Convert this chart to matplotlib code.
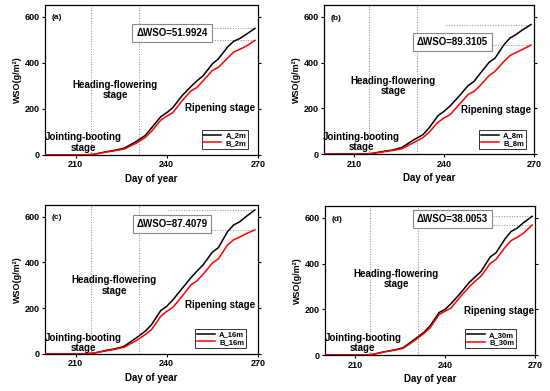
import matplotlib
matplotlib.use('Agg')
import matplotlib.pyplot as plt

plt.rcParams['font.family'] = ['Liberation Sans', 'DejaVu Sans']
plt.rcParams['font.weight'] = 'bold'

# day of year, shared by all series
days = [200, 210, 213, 216, 220, 223, 226, 230, 233, 235, 238, 240,
        242, 245, 248, 250, 252, 255, 257, 260, 262, 264, 266, 269]

a_2m = [0, 0, 0, 2, 13, 20, 29, 58, 85, 117, 165, 183,
        205, 256, 297, 322, 344, 395, 417, 468, 493, 505, 522, 549]
b_2m = [0, 0, 0, 2, 12, 18, 25, 51, 76, 102, 150, 168,
        183, 234, 278, 293, 322, 366, 380, 420, 446, 458, 471, 497]

a_8m = [0, 0, 0, 3, 12, 18, 29, 63, 85, 114, 168, 187,
        210, 253, 299, 318, 352, 401, 420, 479, 508, 523, 542, 567]
b_8m = [0, 0, 0, 2, 10, 16, 23, 51, 72, 95, 139, 158,
        172, 216, 260, 274, 299, 343, 362, 406, 431, 444, 457, 477]

a_16m = [0, 0, 0, 3, 15, 22, 33, 70, 100, 128, 189, 208,
         236, 285, 334, 363, 390, 445, 465, 535, 564, 578, 600, 630]
b_16m = [0, 0, 0, 3, 13, 20, 29, 58, 85, 106, 164, 186,
         203, 251, 302, 320, 349, 397, 416, 477, 499, 511, 525, 543]

a_30m = [0, 0, 0, 3, 15, 22, 32, 70, 100, 128, 186, 200,
         225, 269, 317, 342, 366, 429, 448, 509, 541, 555, 578, 607]
b_30m = [0, 0, 0, 3, 14, 21, 29, 65, 95, 119, 177, 192,
         206, 254, 298, 323, 346, 400, 419, 472, 501, 515, 532, 569]

panel_tags = ['(a)', '(b)', '(c)', '(d)']
heights = ['2m', '8m', '16m', '30m']
delta_wso = ['51.9924', '89.3105', '87.4079', '38.0053']
stage_days = [215, 231]
x_ticks = [210, 240, 270]
y_ticks = [0, 200, 400, 600]

series = [(a_2m, b_2m), (a_8m, b_8m), (a_16m, b_16m), (a_30m, b_30m)]

# axes rectangles in figure fraction
rects = [[0.082, 0.604, 0.387, 0.384],
         [0.589, 0.606, 0.382, 0.381],
         [0.082, 0.095, 0.387, 0.381],
         [0.591, 0.092, 0.382, 0.381]]
# text placement (axes fraction) per panel
box_pos = [(0.596, 0.81), (0.61, 0.754), (0.596, 0.872), (0.607, 0.911)]
head_pos = [(0.33, 0.43), (0.33, 0.456), (0.325, 0.46), (0.34, 0.51)]
ripe_pos = [(0.82, 0.31), (0.82, 0.295), (0.82, 0.33), (0.83, 0.295)]
joint_pos = [(0.18, 0.083), (0.18, 0.08), (0.18, 0.074), (0.18, 0.08)]
leg_anchor = [(0.955, 0.04), (0.962, 0.035), (0.945, 0.04), (0.91, 0.045)]

fig = plt.figure(figsize=(5.5, 3.91), dpi=100)

for i in range(4):
    ax = fig.add_axes(rects[i])
    a, b = series[i]
    ax.plot(days, a, color='black', lw=1.1, label='A_' + heights[i], zorder=3)
    ax.plot(days, b, color='red', lw=1.1, label='B_' + heights[i], zorder=3)

    for d in stage_days:
        ax.axvline(d, color='#888888', ls=':', lw=0.7, zorder=1)
    # dotted lines marking final values
    ax.hlines([a[-1], b[-1]], 240.5, days[-1], colors='#888888',
              linestyles=':', lw=0.7, zorder=1)

    ax.set_xlim(200, 270)
    ax.set_ylim(0, 652)
    ax.set_xticks(x_ticks)
    ax.set_yticks(y_ticks)
    ax.tick_params(axis='both', labelsize=6.5, direction='out', length=2.5, width=0.8, pad=1.5)
    ax.tick_params(right=True, which='major')
    for lab in ax.get_xticklabels() + ax.get_yticklabels():
        lab.set_fontweight('bold')
    for s in ax.spines.values():
        s.set_linewidth(0.9)

    ax.set_xlabel('Day of year', fontsize=7, fontweight='bold', labelpad=3)
    ax.set_ylabel('WSO(g/m²)', fontsize=6.5, fontweight='bold', labelpad=2)

    ax.text(0.03, 0.913, panel_tags[i], transform=ax.transAxes, fontsize=6,
            fontweight='bold', va='center', ha='left')
    ax.text(box_pos[i][0], box_pos[i][1], 'ΔWSO=' + delta_wso[i],
            transform=ax.transAxes, fontsize=7, fontweight='bold',
            ha='center', va='center', zorder=5,
            bbox=dict(boxstyle='square,pad=0.4', fc='white', ec='#888888', lw=0.8))
    ax.text(head_pos[i][0], head_pos[i][1], 'Heading-flowering\nstage',
            transform=ax.transAxes, fontsize=7, fontweight='bold',
            ha='center', va='center', linespacing=1.05)
    ax.text(ripe_pos[i][0], ripe_pos[i][1], 'Ripening stage',
            transform=ax.transAxes, fontsize=7, fontweight='bold',
            ha='center', va='center')
    ax.text(joint_pos[i][0], joint_pos[i][1], 'Jointing-booting\nstage',
            transform=ax.transAxes, fontsize=7, fontweight='bold',
            ha='center', va='center', linespacing=1.05)

    leg = ax.legend(loc='lower right', bbox_to_anchor=leg_anchor[i], fontsize=5.5,
                    frameon=True, fancybox=False, handlelength=2.3,
                    borderpad=0.25, labelspacing=0.05, handletextpad=0.6,
                    borderaxespad=0)
    leg.get_frame().set_edgecolor('black')
    leg.get_frame().set_linewidth(0.7)

fig.savefig('out.png', dpi=100)
